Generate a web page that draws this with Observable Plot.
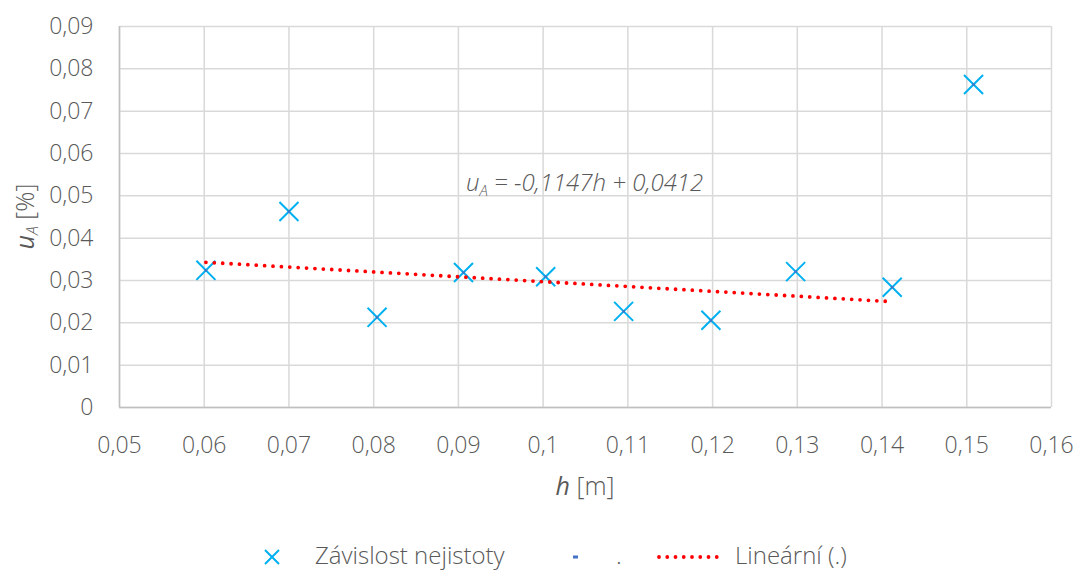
<!DOCTYPE html>
<html><head><meta charset="utf-8">
<script src="https://cdn.jsdelivr.net/npm/d3@7"></script>
<script src="https://cdn.jsdelivr.net/npm/@observablehq/plot@0.6"></script>
<style>
body{margin:0;background:#fff;font-family:"Open Sans",sans-serif;font-weight:300;color:#595959}
#wrap{position:relative;width:1081px;height:572px;overflow:hidden}
#wrap svg{display:block}
</style></head><body><div id="wrap"></div>
<script>
const hValues = [0.0602, 0.0700, 0.0804, 0.0906, 0.1003, 0.1095, 0.1198, 0.1298, 0.1412, 0.1508];
const uValues = [0.0324, 0.0463, 0.0213, 0.0319, 0.0309, 0.0227, 0.0206, 0.0321, 0.0284, 0.0763];
const trendH = [0.0602, 0.1412];
const trendU = [0.0343, 0.0250];
const xTicks = [0.05, 0.06, 0.07, 0.08, 0.09, 0.10, 0.11, 0.12, 0.13, 0.14, 0.15, 0.16];
const yTicks = [0, 0.01, 0.02, 0.03, 0.04, 0.05, 0.06, 0.07, 0.08, 0.09];
const seriesName = "Závislost nejistoty";
const dotSeriesName = ".";
const trendName = "Lineární (.)";
const eqSlope = "-0,1147";
const eqIntercept = "0,0412";

const points = hValues.map((h, i) => ({h, u: uValues[i]}));
const trend = trendH.map((h, i) => ({h, u: trendU[i]}));
const fmt = d => String(+d.toFixed(2)).replace(".", ",");

const blue = "#00b0f0", dark = "#4472c4", red = "#ff0000", grid = "#d9d9d9", txt = "#595959";

const plot = Plot.plot({
  width: 1081, height: 495,
  marginLeft: 119, marginRight: 30, marginTop: 26, marginBottom: 88,
  style: {fontFamily: "'Open Sans', sans-serif", fontWeight: 300, fontSize: "23px", color: txt, background: "#fff", overflow: "visible"},
  x: {domain: [0.05, 0.16], ticks: xTicks, tickFormat: fmt, label: null},
  y: {domain: [0, 0.09], ticks: yTicks, tickFormat: fmt, label: null},
  marks: [
    Plot.gridX(xTicks, {stroke: grid, strokeOpacity: 1, strokeWidth: 1.5}),
    Plot.gridY(yTicks, {stroke: grid, strokeOpacity: 1, strokeWidth: 1.5}),
    Plot.ruleX([0.05], {stroke: "#bfbfbf", strokeWidth: 1.5}),
    Plot.ruleY([0], {stroke: "#bfbfbf", strokeWidth: 1.5}),
    Plot.axisX(xTicks, {tickSize: 0, tickPadding: 29, tickFormat: fmt, fill: txt, fontSize: 23, label: null}),
    Plot.axisY(yTicks, {tickSize: 0, tickPadding: 26, tickFormat: fmt, fill: txt, fontSize: 23, label: null}),
    Plot.dot(points, {x: "h", y: "u", symbol: "times", r: 8.7, stroke: blue, strokeWidth: 2}),
    Plot.dot(points, {x: "h", y: "u", symbol: "square", r: 1.4, fill: dark, stroke: null}),
    Plot.line(trend, {x: "h", y: "u", stroke: red, strokeWidth: 3.8, strokeDasharray: "0 8.4", strokeLinecap: "round"})
  ]
});

const wrap = document.getElementById("wrap");
wrap.appendChild(plot);
const svg = d3.select(plot);
const xs = plot.scale("x"), ys = plot.scale("y");

// equation annotation
const eq = svg.append("text")
  .attr("x", xs.apply(0.09095)).attr("y", ys.apply(0.0510))
  .attr("text-anchor", "start")
  .attr("fill", txt).style("font-size", "24px").style("font-style", "italic").style("font-weight", 300);
eq.append("tspan").text("u");
eq.append("tspan").style("font-size", "15px").attr("dy", "5").text("A");
eq.append("tspan").attr("dy", "-5").text(` = ${eqSlope}h + ${eqIntercept}`);

// x axis title
const xt = svg.append("text").attr("x", (xs.range[0] + xs.range[1]) / 2).attr("y", 495)
  .attr("text-anchor", "middle").attr("fill", txt).style("font-size", "25px").style("font-weight", 300);
xt.append("tspan").style("font-style", "italic").style("font-weight", 500).text("h");
xt.append("tspan").text(" [m]");

// y axis title
const yt = svg.append("text").attr("transform", `translate(34,${(ys.range[0] + ys.range[1]) / 2}) rotate(-90)`)
  .attr("text-anchor", "middle").attr("fill", txt).style("font-size", "25px").style("font-weight", 300);
yt.append("tspan").style("font-style", "italic").style("font-weight", 500).text("u");
yt.append("tspan").style("font-style", "italic").style("font-size", "16px").attr("dy", "4").text("A");
yt.append("tspan").attr("dy", "-4").text(" [%]");

// legend (below the chart)
const leg = d3.select(wrap).append("svg").attr("width", 1081).attr("height", 77)
  .style("font-family", "'Open Sans', sans-serif").style("font-weight", 300).style("font-size", "24px");
const my = 62, by = 69;
leg.append("path").attr("d", `M${272-7},${my-7}L${272+7},${my+7}M${272+7},${my-7}L${272-7},${my+7}`)
  .attr("stroke", blue).attr("stroke-width", 2).attr("fill", "none");
leg.append("text").attr("x", 315).attr("y", by).attr("fill", txt).text(seriesName);
leg.append("rect").attr("x", 573).attr("y", my - 1.5).attr("width", 5).attr("height", 3).attr("fill", dark);
leg.append("text").attr("x", 616).attr("y", by).attr("fill", txt).text(dotSeriesName);
leg.append("line").attr("x1", 659).attr("x2", 725).attr("y1", my).attr("y2", my)
  .attr("stroke", red).attr("stroke-width", 3.8).attr("stroke-dasharray", "0 8.25").attr("stroke-linecap", "round");
leg.append("text").attr("x", 735).attr("y", by).attr("fill", txt).text(trendName);
</script></body></html>
